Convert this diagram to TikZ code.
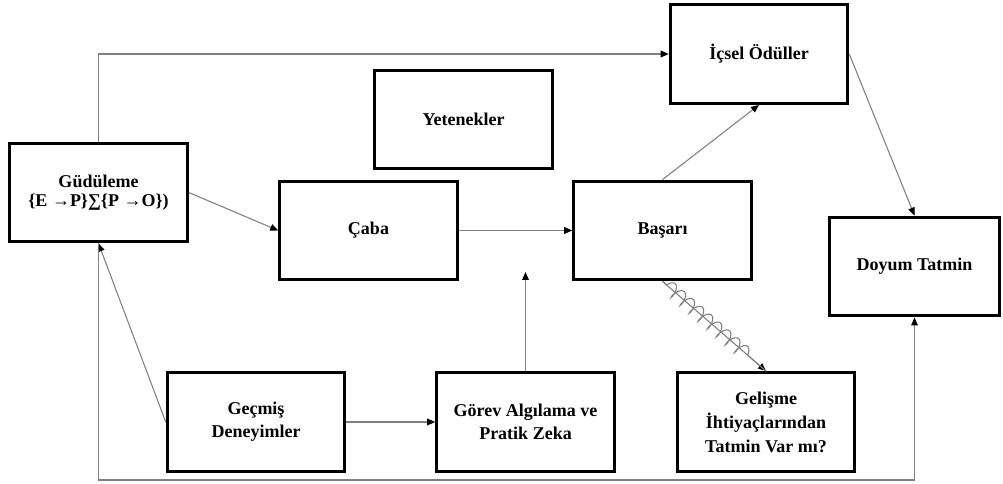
\documentclass[tikz,border=0pt]{standalone}
\usepackage{fontspec}
\setmainfont{Liberation Serif}
\usetikzlibrary{arrows.meta,decorations.pathmorphing}
\begin{document}
\begin{tikzpicture}[x=0.75pt,y=-0.75pt,
  box/.style={draw=black,line width=2.4pt,fill=white,align=center,
    font=\fontsize{13.5}{17}\selectfont\bfseries,inner sep=2pt,
    minimum width=133pt,minimum height=74pt},
  conn/.style={draw=black!50,line width=0.8pt,-{Triangle[length=6pt,width=5pt,color=black]}},
  plain/.style={draw=black!50,line width=0.8pt}]
\useasboundingbox (0,0) rectangle (1003,484);
\node[box] (gud) at (98.5,192.5) {Güdüleme\\[-3pt]\{E →P\}∑\{P →O\})};
\node[box] (yet) at (463.5,119.5) {Yetenekler};
\node[box] (ics) at (759,54) {İçsel Ödüller};
\node[box] (caba) at (368.5,230.5) {Çaba};
\node[box] (bas) at (662.5,230.5) {Başarı};
\node[box,minimum width=128pt] (doy) at (914.5,266.5) {Doyum Tatmin};
\node[box] (gec) at (256,422) {Geçmiş\\Deneyimler};
\node[box] (gor) at (525.5,422) {Görev Algılama ve\\Pratik Zeka};
\node[box,font=\fontsize{13.5}{18}\selectfont\bfseries] (gel) at (766,422) {Gelişme\\İhtiyaçlarından\\Tatmin Var mı?};
\coordinate (gorup) at (525.5,272);
\coordinate (bl) at (98.5,480);
\draw[conn] (gud.north) |- (ics.west);
\draw[conn] (gud.east) -- (caba.west);
\draw[conn] (caba.east) -- (bas.west);
\draw[conn] (bas.north) -- (ics.south);
\draw[conn] (ics.east) -- (doy.north);
\draw[conn] (gor.north) -- (gorup);
\draw[conn] (gec.east) -- (gor.west);
\draw[conn] (gec.west) -- (gud.south);
\draw[conn] (gud.south) -- (bl) -| (doy.south);
\draw[conn] (bas.south) -- (gel.north);
\draw[plain,decorate,decoration={coil,amplitude=5pt,segment length=9pt,aspect=0.4,pre length=4pt,post length=12pt}] (bas.south) -- (gel.north);
\end{tikzpicture}
\end{document}
